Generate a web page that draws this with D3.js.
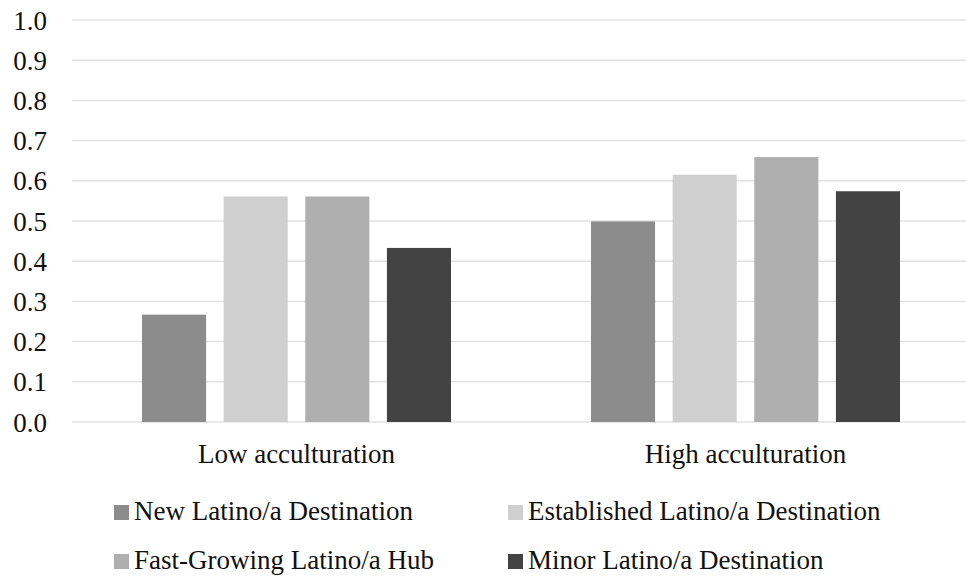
<!DOCTYPE html>
<html>
<head>
<meta charset="utf-8">
<script src="https://cdn.jsdelivr.net/npm/d3@7"></script>
<style>
  html, body { margin: 0; padding: 0; background: #fff; }
  svg { display: block; }
  svg text { font-family: "Liberation Serif", "Times New Roman", Times, "DejaVu Serif", serif; fill: #111; }
</style>
</head>
<body>
<svg id="chart" width="966" height="580"></svg>
<script>
// Groups along the x axis
const categories = ["Low acculturation", "High acculturation"];
// Series (destination types), in drawing order
const seriesNames = [
  "New Latino/a Destination",
  "Established Latino/a Destination",
  "Fast-Growing Latino/a Hub",
  "Minor Latino/a Destination"
];
const seriesColors = ["#8c8c8c", "#cfcfcf", "#afafaf", "#434343"];
// Values per series: [Low, High]
const newDest = [0.267, 0.499];
const establishedDest = [0.561, 0.615];
const fastGrowingHub = [0.561, 0.659];
const minorDest = [0.433, 0.574];
const seriesValues = [newDest, establishedDest, fastGrowingHub, minorDest];
const yTicks = [0, 0.1, 0.2, 0.3, 0.4, 0.5, 0.6, 0.7, 0.8, 0.9, 1.0];

const FONT = '"Liberation Serif", "Times New Roman", Times, "DejaVu Serif", serif';

const svg = d3.select("#chart");
const plot = { left: 72, right: 970, top: 20, bottom: 422 };

const y = d3.scaleLinear().domain([0, 1]).range([plot.bottom, plot.top]);
const x0 = d3.scaleBand().domain(categories).range([plot.left, plot.right]).padding(0);
const groupPad = 70;
const x1 = d3.scaleBand()
  .domain(d3.range(seriesNames.length))
  .range([groupPad, x0.bandwidth() - groupPad])
  .paddingInner(0.215);

// Gridlines
svg.append("g")
  .selectAll("line")
  .data(yTicks)
  .join("line")
  .attr("x1", plot.left)
  .attr("x2", 966)
  .attr("y1", d => y(d))
  .attr("y2", d => y(d))
  .attr("stroke", "#e2e2e2")
  .attr("stroke-width", 1.5);

// Y axis labels
const yAxis = d3.axisLeft(y).tickValues(yTicks).tickFormat(d3.format(".1f")).tickSize(0).tickPadding(0);
const yG = svg.append("g").attr("transform", "translate(47,0)").call(yAxis);
yG.attr("font-family", FONT).attr("font-size", 27);
yG.select(".domain").remove();
yG.selectAll("text")
  .attr("fill", "#111")
  .attr("dy", "0.34em");

// Bars
const groups = svg.append("g")
  .selectAll("g")
  .data(categories)
  .join("g")
  .attr("transform", d => `translate(${x0(d)},0)`);

groups.selectAll("rect")
  .data((c, ci) => seriesValues.map((vals, si) => ({ si, v: vals[ci] })))
  .join("rect")
  .attr("x", d => x1(d.si))
  .attr("width", x1.bandwidth())
  .attr("y", d => y(d.v))
  .attr("height", d => y(0) - y(d.v))
  .attr("fill", d => seriesColors[d.si]);

// Category labels
const xAxis = d3.axisBottom(x0).tickSize(0).tickPadding(0);
const xG = svg.append("g").attr("transform", `translate(0,${plot.bottom})`).call(xAxis);
xG.attr("font-family", FONT).attr("font-size", 27);
xG.select(".domain").remove();
xG.selectAll("text")
  .attr("fill", "#111")
  .attr("dy", "0")
  .attr("y", 41);

// Legend (2 x 2)
const legendPos = [
  { x: 114, y: 520 },
  { x: 508, y: 520 },
  { x: 114, y: 569 },
  { x: 508, y: 569 }
];
const legend = svg.append("g")
  .attr("font-family", FONT)
  .attr("font-size", 27)
  .selectAll("g")
  .data(seriesNames)
  .join("g")
  .attr("transform", (d, i) => `translate(${legendPos[i].x},${legendPos[i].y})`);

legend.append("rect")
  .attr("x", 0)
  .attr("y", -15)
  .attr("width", 15)
  .attr("height", 15)
  .attr("fill", (d, i) => seriesColors[i]);

legend.append("text")
  .attr("x", 20)
  .attr("y", 0)
  .text(d => d);
</script>
</body>
</html>
